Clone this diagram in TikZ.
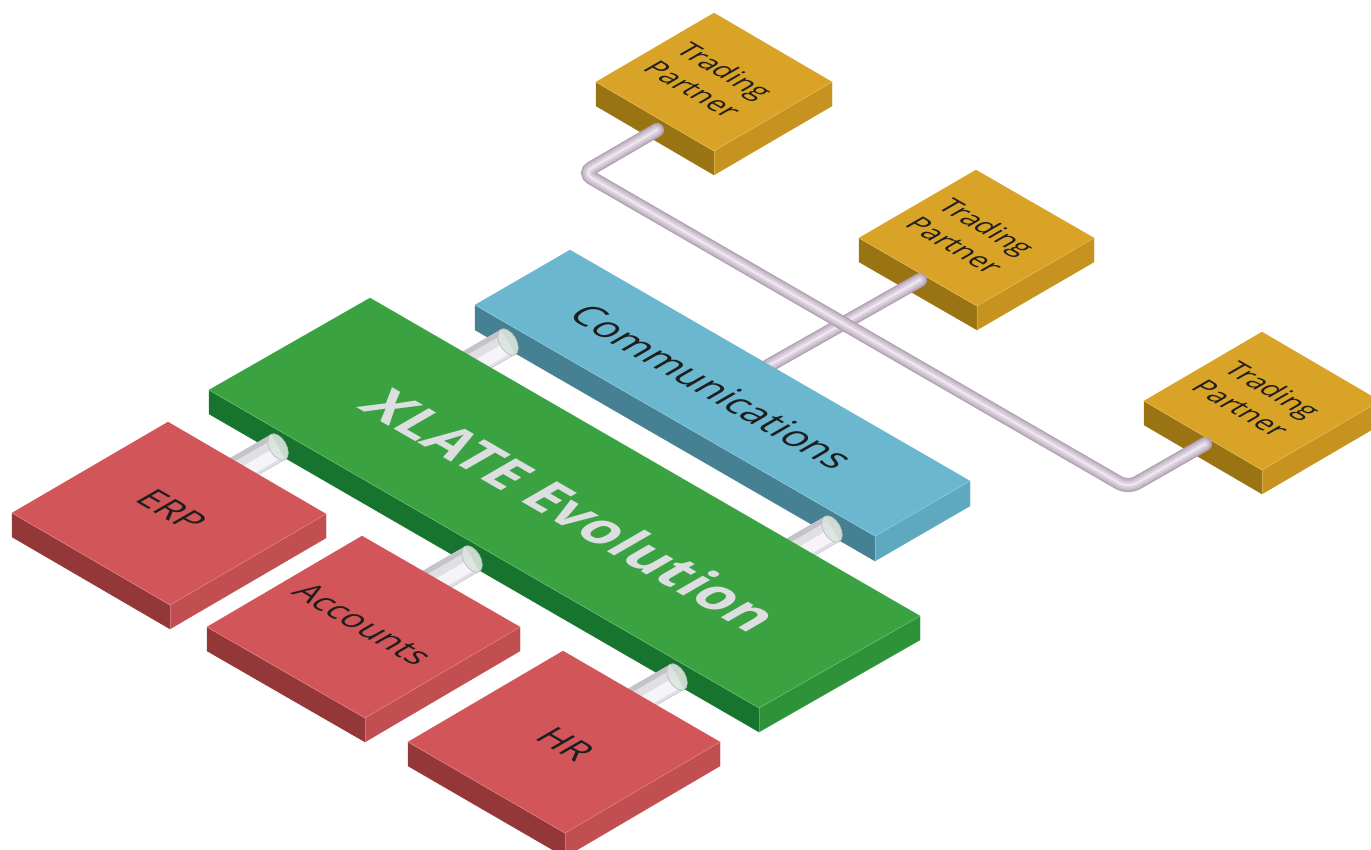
\documentclass[tikz,border=0pt]{standalone}
\usepackage{fontspec}
\setmainfont{Open Sans}
\usetikzlibrary{calc}
\definecolor{gTop}{HTML}{3AA241}
\definecolor{gLeft}{HTML}{17742E}
\definecolor{gRight}{HTML}{2E9238}
\definecolor{bTop}{HTML}{6AB7CF}
\definecolor{bLeft}{HTML}{468193}
\definecolor{bRight}{HTML}{5FA9C0}
\definecolor{rTop}{HTML}{D25659}
\definecolor{rLeft}{HTML}{943739}
\definecolor{rRight}{HTML}{C14E50}
\definecolor{oTop}{HTML}{D8A326}
\definecolor{oLeft}{HTML}{9A7412}
\definecolor{oRight}{HTML}{C69320}
\definecolor{silD}{HTML}{C4C3CA}
\definecolor{silM}{HTML}{E0DFE4}
\definecolor{silL}{HTML}{F6F4F8}
\definecolor{capF}{HTML}{DDE5DF}
\definecolor{capD}{HTML}{AEBDB3}
\definecolor{lavA}{HTML}{B2A3B4}
\definecolor{lavB}{HTML}{C9BACB}
\definecolor{lavC}{HTML}{DBCEDC}
\definecolor{lavD}{HTML}{EDE6EE}
\definecolor{labelcol}{HTML}{1E1E1E}
\definecolor{xlatecol}{HTML}{DCDEDF}
\tikzset{
  lbl/.style={inner sep=0pt, anchor=center, text=labelcol, transform shape, align=center},
  edgehl/.style={line width=0.5pt},
}
% isometric slab: #1 left corner, #2 top corner, #3 right corner (top face), #4 thickness, #5 top, #6 left face, #7 right face
\newcommand\isoslab[7]{%
  \coordinate (sL) at (#1); \coordinate (sT) at (#2); \coordinate (sR) at (#3);
  \coordinate (sB) at ($(sL)+(sR)-(sT)$);
  \filldraw[fill=#6, draw=#6, line width=0.3pt] (sL) -- (sB) -- ($(sB)+(0,#4)$) -- ($(sL)+(0,#4)$) -- cycle;
  \filldraw[fill=#7, draw=#7, line width=0.3pt] (sB) -- (sR) -- ($(sR)+(0,#4)$) -- ($(sB)+(0,#4)$) -- cycle;
  \filldraw[fill=#5, draw=#5, line width=0.3pt] (sL) -- (sT) -- (sR) -- (sB) -- cycle;
  \draw[edgehl, #5!70!white] (sL) -- (sB) -- (sR);
  \draw[edgehl, #7!80!white] (sB) -- ($(sB)+(0,#4)$);
}
% isometric label on a top face
\newcommand\isolabel[4]{%
  \begin{scope}[shift={(#1)}, cm={0.866,-0.5,0.866,0.5,(0,0)}]
    \node[lbl, #3] (#2) at (0,0) {#4};
  \end{scope}}
% short silver pipe ending with a cap at #1
\newcommand\silverpipe[2]{%
  \coordinate (#2cap) at (#1);
  \coordinate (#2base) at ($(#2cap)+(-52,30)$);
  \draw[line width=29pt, silD] (#2base) -- (#2cap);
  \draw[line width=23pt, silM] ($(#2base)+(1.2,2)$) -- ($(#2cap)+(1.2,2)$);
  \draw[line width=12pt, silL] ($(#2base)+(2.5,4.3)$) -- ($(#2cap)+(2.5,4.3)$);
  \begin{scope}[shift={(#2cap)}, cm={0.866,-0.5,0,1,(0,0)}]
    \filldraw[fill=capF, draw=capD, line width=0.6pt, fill opacity=0.9] (0,0) circle (11.9);
  \end{scope}
}
\begin{document}
\begin{tikzpicture}[x=1pt, y=-1pt]
\useasboundingbox (0,0) rectangle (1371,849);
\clip (0,0) rectangle (1371,849);

% trading partners
\isoslab{596,82}{714,13}{832,82}{24}{oTop}{oLeft}{oRight}
\isoslab{859,238}{976,170}{1094,238}{24}{oTop}{oLeft}{oRight}
\isoslab{1144,401}{1262,332}{1380,401}{24}{oTop}{oLeft}{oRight}

% lavender pipes
\coordinate (pA) at (657,130);
\coordinate (pB) at (583,173);
\coordinate (pC) at (1128,488);
\coordinate (pD) at (1205,444);
\coordinate (qA) at (768,366);
\coordinate (qB) at (920,280);
\foreach \w/\c in {14/lavA, 11/lavB, 7/lavC, 2.5/lavD}{
  \draw[line width=\w pt, \c, line cap=round] (qA) -- (qB);
}
\foreach \w/\c in {14/lavA, 11/lavB, 7/lavC, 2.5/lavD}{
  \draw[line width=\w pt, \c, line cap=round, rounded corners=10pt] (pA) -- (pB) -- (pC) -- (pD);
}

% communications slab
\isoslab{475,305}{570,250}{970,481}{25}{bTop}{bLeft}{bRight}
\silverpipe{508,342}{cp1}
\silverpipe{832,529}{cp2}

% XLATE slab
\isoslab{209,390}{370,298}{920,616}{24}{gTop}{gLeft}{gRight}
\silverpipe{278,447}{ep}
\silverpipe{472,559}{ap}
\silverpipe{677,677}{hp}

% applications
\isoslab{12,513}{168,422}{326,514}{24}{rTop}{rLeft}{rRight}
\isoslab{207,627}{362,536}{520,627}{24}{rTop}{rLeft}{rRight}
\isoslab{408,742}{563,651}{720,742}{24}{rTop}{rLeft}{rRight}

% labels
\isolabel{709,80}{tp1}{font=\fontsize{28}{37}\selectfont}{Trading\\Partner}
\isolabel{971,236}{tp2}{font=\fontsize{28}{37}\selectfont}{Trading\\Partner}
\isolabel{1257,399}{tp3}{font=\fontsize{28}{37}\selectfont}{Trading\\Partner}
\isolabel{712,387}{comm}{font=\fontsize{39}{46}\selectfont}{Communications}
\isolabel{572,510}{xlate}{font=\fontsize{57}{64}\selectfont\bfseries, text=xlatecol}{XLATE Evolution}
\isolabel{172,510}{erp}{font=\fontsize{36}{42}\selectfont}{ERP}
\isolabel{363,624}{acc}{font=\fontsize{34}{40}\selectfont}{Accounts}
\isolabel{566,744}{hr}{font=\fontsize{36}{42}\selectfont}{HR}
\end{tikzpicture}
\end{document}
